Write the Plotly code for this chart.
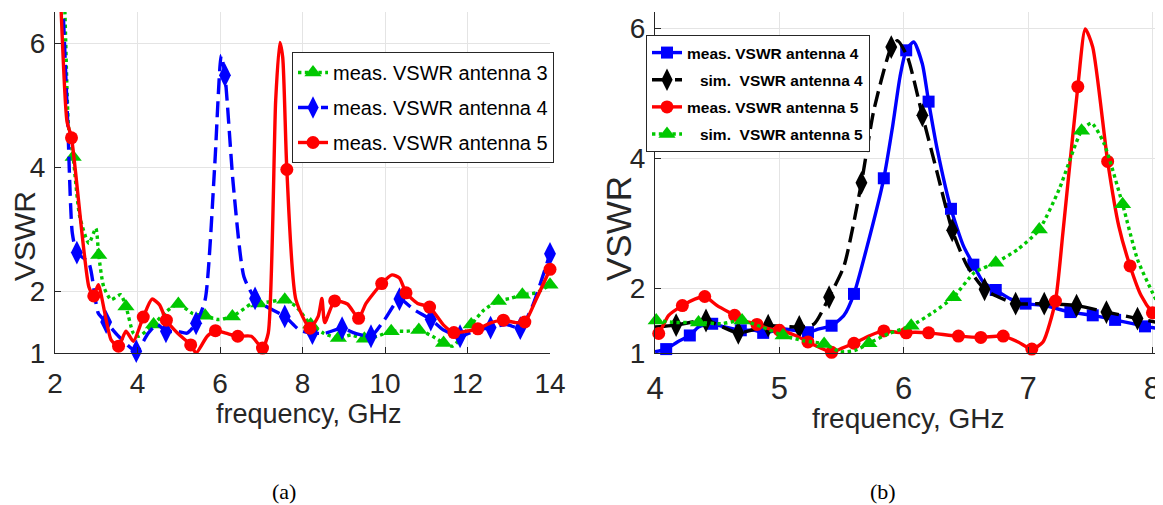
import plotly.graph_objects as go

# ---------------- (a) ----------------
a3_x = [2.18, 2.24, 2.33, 2.44, 2.60, 2.82, 2.99, 3.06, 3.18, 3.36, 3.59, 3.72, 3.90, 4.03, 4.39, 4.70, 4.99, 5.33,
        5.64, 5.96, 6.30, 6.76, 6.94, 7.25, 7.57, 7.84, 8.20, 8.51, 8.87, 9.18, 9.50, 9.81, 10.15, 10.53, 10.82,
        11.15, 11.42, 11.64, 12.09, 12.41, 12.75, 13.03, 13.33, 13.66, 14.0]
a3_y = [7.5, 6.5, 4.64, 4.16, 3.20, 2.77, 3.01, 2.58, 2.07, 1.86, 1.94, 1.75, 1.32, 1.27, 1.46, 1.67, 1.79, 1.64,
        1.60, 1.54, 1.59, 1.79, 1.80, 1.83, 1.86, 1.75, 1.46, 1.32, 1.24, 1.29, 1.23, 1.27, 1.35, 1.35, 1.37,
        1.27, 1.16, 1.11, 1.46, 1.70, 1.84, 1.88, 1.94, 1.97, 2.10]
a3_mx = [2.44, 3.06, 3.72, 4.39, 4.99, 5.64, 6.30, 6.94, 7.57, 8.20, 8.87, 9.50, 10.15, 10.82, 11.42, 12.09, 12.75, 13.33, 14.0]
a3_my = [4.16, 2.58, 1.75, 1.46, 1.79, 1.60, 1.59, 1.80, 1.86, 1.46, 1.24, 1.23, 1.35, 1.37, 1.16, 1.46, 1.84, 1.94, 2.10]

a4_x = [2.15, 2.20, 2.31, 2.42, 2.53, 2.82, 3.05, 3.24, 3.54, 3.97, 4.26, 4.48, 4.69, 4.97, 5.20, 5.42, 5.64, 5.87,
        6.03, 6.12, 6.32, 6.58, 6.85, 7.12, 7.57, 7.93, 8.24, 8.55, 8.96, 9.27, 9.66, 9.99, 10.35, 10.70, 11.11,
        11.42, 11.82, 12.23, 12.56, 12.94, 13.28, 13.57, 14.0]
a4_y = [7.5, 6.5, 4.69, 2.93, 2.62, 2.45, 1.64, 1.50, 1.27, 1.03, 1.32, 1.46, 1.35, 1.35, 1.32, 1.48, 1.86, 4.0,
        5.80, 5.48, 3.73, 2.23, 1.88, 1.75, 1.59, 1.37, 1.32, 1.32, 1.40, 1.32, 1.27, 1.54, 1.87, 1.70, 1.54,
        1.37, 1.27, 1.37, 1.41, 1.46, 1.40, 1.75, 2.60]
a4_mx = [2.53, 3.24, 3.97, 4.69, 5.42, 6.12, 6.85, 7.57, 8.24, 8.96, 9.66, 10.35, 11.11, 11.82, 12.56, 13.28, 14.0]
a4_my = [2.62, 1.50, 1.03, 1.35, 1.48, 5.48, 1.88, 1.59, 1.32, 1.40, 1.27, 1.87, 1.54, 1.27, 1.41, 1.40, 2.60]

a5_x = [2.10, 2.15, 2.29, 2.40, 2.82, 2.94, 3.05, 3.36, 3.54, 3.72, 3.90, 4.14, 4.35, 4.53, 4.70, 4.97, 5.29, 5.42,
        5.69, 5.89, 6.14, 6.43, 6.76, 7.03, 7.17, 7.35, 7.45, 7.52, 7.62, 7.84, 8.18, 8.38, 8.47, 8.54, 8.78,
        9.09, 9.36, 9.54, 9.92, 10.17, 10.35, 10.51, 10.79, 11.08, 11.42, 11.67, 11.96, 12.25, 12.58, 12.87,
        13.17, 13.39, 13.66, 14.0]
a5_y = [7.5, 6.5, 4.74, 4.47, 2.07, 1.92, 2.10, 1.21, 1.11, 1.35, 1.19, 1.58, 1.87, 1.78, 1.53, 1.32, 1.13, 1.0,
        1.27, 1.36, 1.32, 1.27, 1.27, 1.08, 1.32, 5.08, 6.01, 5.77, 3.96, 1.86, 1.40, 1.59, 1.88, 1.49, 1.84,
        1.79, 1.56, 1.80, 2.12, 2.26, 2.21, 1.97, 1.80, 1.74, 1.45, 1.33, 1.35, 1.39, 1.49, 1.53,
        1.49, 1.50, 1.86, 2.35]
a5_mx = [2.40, 2.94, 3.54, 4.14, 4.70, 5.29, 5.89, 6.43, 7.03, 7.62, 8.18, 8.78, 9.36, 9.92, 10.51, 11.08, 11.67,
         12.25, 12.87, 13.39, 14.0]
a5_my = [4.47, 1.92, 1.11, 1.58, 1.53, 1.13, 1.36, 1.27, 1.08, 3.96, 1.40, 1.84, 1.56, 2.12, 1.97, 1.74, 1.33,
         1.39, 1.53, 1.50, 2.35]

# ---------------- (b) ----------------
b_m4_x = [4.0, 4.09, 4.18, 4.28, 4.35, 4.46, 4.56, 4.69, 4.80, 4.87, 5.04, 5.23, 5.32, 5.42, 5.52, 5.60, 5.70, 5.84,
          5.91, 5.97, 6.02, 6.08, 6.15, 6.20, 6.27, 6.38, 6.48, 6.56, 6.64, 6.74, 6.86, 6.98, 7.13, 7.34, 7.52,
          7.70, 7.94, 8.1]
b_m4_y = [1.02, 1.06, 1.17, 1.27, 1.40, 1.45, 1.40, 1.35, 1.35, 1.31, 1.37, 1.32, 1.37, 1.42, 1.58, 1.91, 2.60, 3.69,
          4.48, 5.25, 5.66, 5.79, 5.45, 4.87, 4.13, 3.22, 2.65, 2.36, 2.09, 1.97, 1.83, 1.76, 1.73, 1.63, 1.58,
          1.51, 1.41, 1.36]
b_m4_mx = [4.09, 4.28, 4.46, 4.69, 4.87, 5.23, 5.42, 5.60, 5.84, 6.02, 6.20, 6.38, 6.56, 6.74, 6.98, 7.34, 7.52, 7.70, 7.94]
b_m4_my = [1.06, 1.27, 1.45, 1.35, 1.31, 1.32, 1.42, 1.91, 3.69, 5.66, 4.87, 3.22, 2.36, 1.97, 1.76, 1.63, 1.58, 1.51, 1.41]

b_s4_x = [4.0, 4.17, 4.41, 4.67, 4.91, 5.16, 5.28, 5.40, 5.52, 5.66, 5.76, 5.90, 5.95, 6.03, 6.15, 6.27, 6.39, 6.51,
          6.65, 6.74, 6.90, 7.13, 7.39, 7.63, 7.88, 8.1]
b_s4_y = [1.40, 1.43, 1.50, 1.31, 1.42, 1.40, 1.45, 1.86, 2.34, 3.62, 4.74, 5.71, 5.81, 5.56, 4.66, 3.77, 2.89, 2.34,
          1.98, 1.88, 1.76, 1.76, 1.73, 1.63, 1.53, 1.45]
b_s4_mx = [4.17, 4.41, 4.67, 4.91, 5.16, 5.40, 5.66, 5.90, 6.15, 6.39, 6.65, 6.90, 7.13, 7.39, 7.63, 7.88]
b_s4_my = [1.43, 1.50, 1.31, 1.42, 1.40, 1.86, 3.62, 5.71, 4.66, 2.89, 1.98, 1.76, 1.76, 1.73, 1.63, 1.53]

b_m5_x = [4.0, 4.03, 4.11, 4.22, 4.32, 4.40, 4.50, 4.64, 4.71, 4.82, 4.92, 5.00, 5.13, 5.23, 5.34, 5.42, 5.50, 5.60,
          5.73, 5.84, 5.94, 6.02, 6.09, 6.20, 6.44, 6.62, 6.80, 6.92, 7.03, 7.12, 7.22, 7.28, 7.40, 7.46, 7.52,
          7.64, 7.73, 7.82, 7.91, 8.0, 8.1]
b_m5_y = [1.27, 1.30, 1.58, 1.73, 1.83, 1.87, 1.73, 1.58, 1.50, 1.44, 1.37, 1.35, 1.27, 1.17, 1.07, 1.01, 1.07, 1.15,
          1.27, 1.34, 1.32, 1.31, 1.32, 1.31, 1.26, 1.24, 1.26, 1.17, 1.06, 1.17, 1.80, 2.85, 5.10, 5.99, 5.71,
          3.95, 2.95, 2.34, 1.88, 1.62, 1.45]
b_m5_mx = [4.03, 4.22, 4.40, 4.64, 4.82, 5.00, 5.23, 5.42, 5.60, 5.84, 6.02, 6.20, 6.44, 6.62, 6.80, 7.03, 7.22,
           7.40, 7.64, 7.82, 8.0]
b_m5_my = [1.30, 1.73, 1.87, 1.58, 1.44, 1.35, 1.17, 1.01, 1.15, 1.34, 1.31, 1.31, 1.26, 1.24, 1.26, 1.06, 1.80,
           5.10, 3.95, 2.34, 1.62]

b_s5_x = [4.01, 4.17, 4.35, 4.53, 4.70, 4.86, 5.03, 5.19, 5.36, 5.49, 5.61, 5.72, 5.88, 6.06, 6.24, 6.40, 6.57,
          6.74, 6.92, 7.09, 7.25, 7.43, 7.51, 7.61, 7.76, 7.88, 8.0, 8.1]
b_s5_y = [1.50, 1.47, 1.47, 1.45, 1.50, 1.40, 1.27, 1.19, 1.14, 1.02, 1.04, 1.15, 1.30, 1.42, 1.63, 1.86, 2.24,
          2.39, 2.60, 2.90, 3.52, 4.42, 4.54, 4.23, 3.29, 2.44, 1.93, 1.55]
b_s5_mx = [4.01, 4.35, 4.70, 5.03, 5.36, 5.72, 6.06, 6.40, 6.74, 7.09, 7.43, 7.76]
b_s5_my = [1.50, 1.47, 1.50, 1.27, 1.14, 1.15, 1.42, 1.86, 2.39, 2.90, 4.42, 3.29]

a_xticks = [2, 4, 6, 8, 10, 12, 14]
b_xticks = [4, 5, 6, 7, 8]
yticks = [1, 2, 4, 6]

GREEN = "#00c800"
BLUE = "#0000ff"
RED = "#ff0000"
BLACK = "#000000"

W, H = 1163, 505
OFF = 8  # page body margin


def px(xp):
    return (xp - OFF) / W


def py(yp):
    return 1 - (yp - OFF) / H


fig = go.Figure()


def add_series(x, y, mx, my, color, dash, symbol, msize, name, xa, ya, legend):
    fig.add_trace(go.Scatter(x=x, y=y, mode="lines", xaxis=xa, yaxis=ya, showlegend=False, hoverinfo="skip",
                             line=dict(color=color, width=3.4, dash=dash, shape="spline", smoothing=0.6)))
    fig.add_trace(go.Scatter(x=mx, y=my, mode="markers", xaxis=xa, yaxis=ya, showlegend=False, cliponaxis=False,
                             marker=dict(symbol=symbol, size=msize, color=color, line=dict(width=0))))
    fig.add_trace(go.Scatter(x=[None], y=[None], mode="lines+markers", xaxis=xa, yaxis=ya, name=name, legend=legend,
                             legendgroup=name + xa,
                             line=dict(color=color, width=3.4, dash=dash),
                             marker=dict(symbol=symbol, size=msize, color=color)))


add_series(a3_x, a3_y, a3_mx, a3_my, GREEN, "dot", "triangle-up", 15, "meas. VSWR antenna 3", "x", "y", "legend")
add_series(a4_x, a4_y, a4_mx, a4_my, BLUE, "16px,7px", "diamond-tall", 17, "meas. VSWR antenna 4", "x", "y", "legend")
add_series(a5_x, a5_y, a5_mx, a5_my, RED, "solid", "circle", 13, "meas. VSWR antenna 5", "x", "y", "legend")

NB = "\u00a0"
add_series(b_m4_x, b_m4_y, b_m4_mx, b_m4_my, BLUE, "solid", "square", 12, "meas. VSWR antenna 4", "x2", "y2", "legend2")
add_series(b_s4_x, b_s4_y, b_s4_mx, b_s4_my, BLACK, "16px,7px", "diamond-tall", 17,
           NB * 3 + "sim." + NB * 2 + "VSWR antenna 4", "x2", "y2", "legend2")
add_series(b_m5_x, b_m5_y, b_m5_mx, b_m5_my, RED, "solid", "circle", 13, "meas. VSWR antenna 5", "x2", "y2", "legend2")
add_series(b_s5_x, b_s5_y, b_s5_mx, b_s5_my, GREEN, "dot", "triangle-up", 15,
           NB * 3 + "sim." + NB * 2 + "VSWR antenna 5", "x2", "y2", "legend2")

REG = "Liberation Sans, Arial, sans-serif"
SERIF = "Liberation Serif, Times New Roman, serif"
TXT = "#262626"

ydom = [py(353), py(12)]
common_x = dict(showgrid=True, gridcolor="#e4e4e4", gridwidth=1, showline=True, linecolor=TXT, linewidth=1,
                ticks="inside", ticklen=6, tickcolor=TXT, zeroline=False, automargin=False)
common_y = dict(showgrid=True, gridcolor="#e4e4e4", gridwidth=1, showline=True, linecolor=TXT, linewidth=1,
                ticks="inside", ticklen=6, tickcolor=TXT, zeroline=False, tickvals=yticks, automargin=False,
                tickfont=dict(family=REG, size=28, color=TXT), ticklabelstandoff=3)


def ann(text, x, y, size, family=REG, angle=0, color=TXT):
    return dict(text=text, x=px(x), y=py(y), xref="paper", yref="paper", showarrow=False,
                xanchor="center", yanchor="middle", textangle=angle,
                font=dict(family=family, size=size, color=color))


fig.update_layout(
    width=W, height=H, margin=dict(l=0, r=0, t=0, b=0),
    paper_bgcolor="white", plot_bgcolor="white",
    xaxis=dict(common_x, domain=[px(55), px(550)], range=[2, 14], tickvals=a_xticks, anchor="y",
               tickfont=dict(family=REG, size=28, color=TXT), ticklabelstandoff=5),
    yaxis=dict(common_y, domain=ydom, range=[1, 6.5], anchor="x"),
    xaxis2=dict(common_x, domain=[px(655), px(1163)], range=[4, 8.085], tickvals=b_xticks, anchor="y2",
                tickfont=dict(family=REG, size=31, color=TXT), ticklabelstandoff=8),
    yaxis2=dict(common_y, domain=ydom, range=[1, 6.25], anchor="x2"),
    legend=dict(x=px(292), y=py(52), xanchor="left", yanchor="top", bgcolor="white",
                bordercolor=TXT, borderwidth=1, font=dict(family=REG, size=20, color="#000000"),
                traceorder="grouped", tracegroupgap=6, itemwidth=30),
    legend2=dict(x=px(646), y=py(35), xanchor="left", yanchor="top", bgcolor="white",
                 bordercolor=TXT, borderwidth=1, font=dict(family=REG, size=15.5, color="#000000", weight="bold"),
                 traceorder="grouped", tracegroupgap=4, itemwidth=30),
    annotations=[
        ann("frequency, GHz", 309, 414, 27),
        ann("frequency, GHz", 908, 418, 28),
        ann("VSWR", 25, 236, 30, angle=-90),
        ann("VSWR", 619, 229, 35, angle=-90),
        ann("(a)", 284, 491, 22, family=SERIF, color="#000000"),
        ann("(b)", 883, 491, 22, family=SERIF, color="#000000"),
    ],
)

fig.write_html("out.html")
